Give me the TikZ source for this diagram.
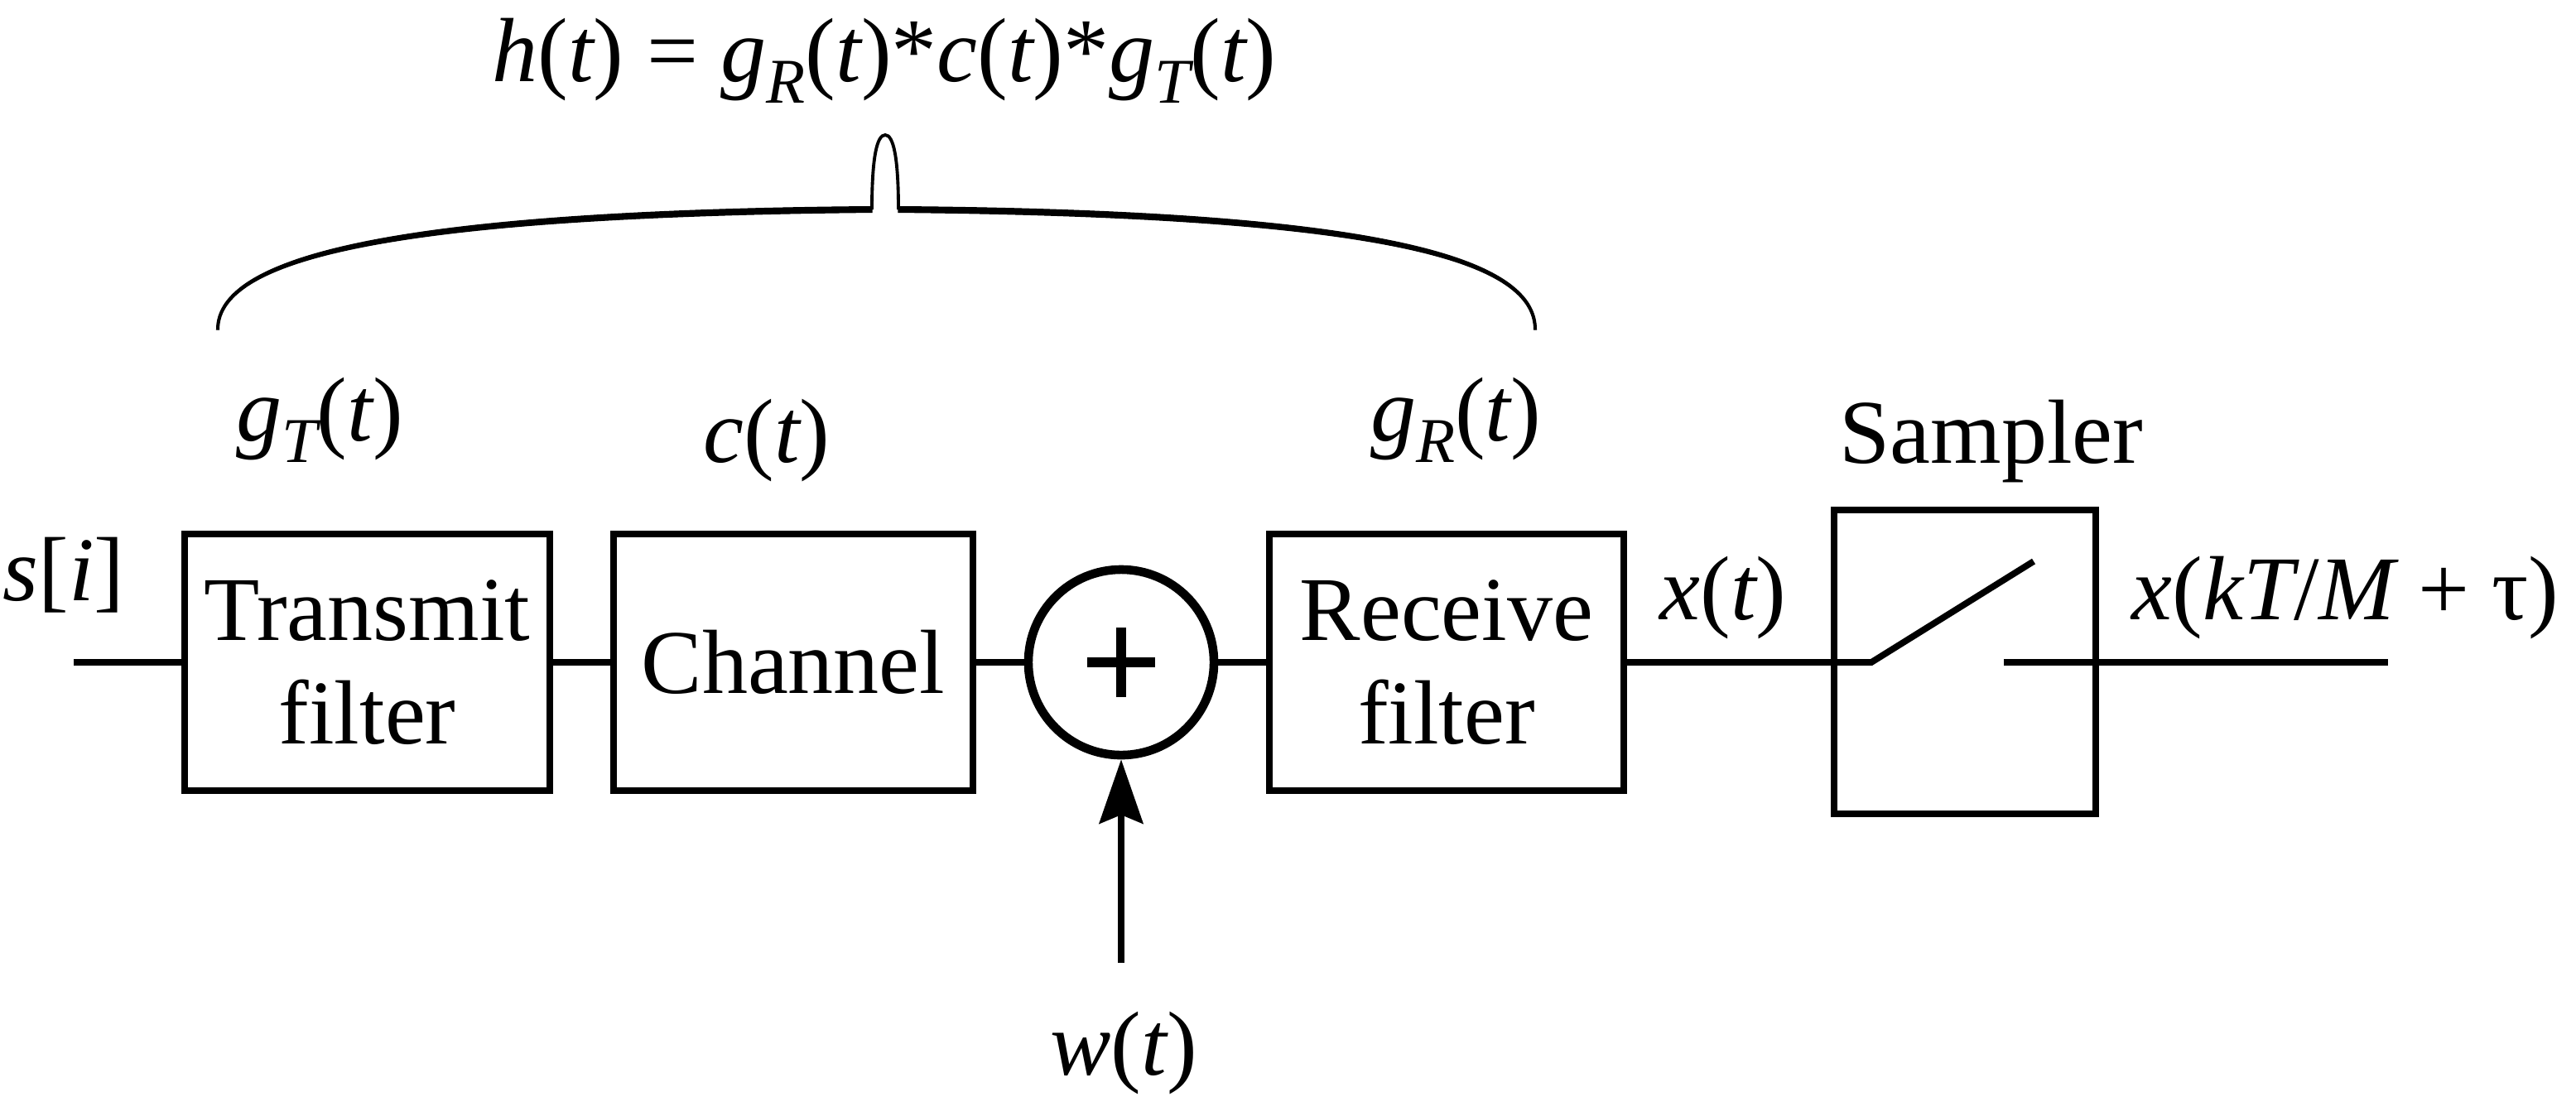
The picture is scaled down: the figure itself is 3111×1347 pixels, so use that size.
\documentclass[tikz,border=0pt]{standalone}
\usepackage{fontspec}
\setmainfont{Liberation Serif}
\usetikzlibrary{arrows.meta}
\newcommand\vsub[1]{\raisebox{-0.24em}{\fontsize{21.9}{24}\selectfont\itshape #1}}
\newcommand\vi[1]{{\itshape #1}}
\begin{document}
\begin{tikzpicture}[x=0.01cm,y=-0.01cm,
  font=\fontsize{31.3}{35.6}\selectfont,
  blk/.style={draw, line width=2.1pt, inner sep=0pt, align=center,
              minimum width=#1, minimum height=3.10cm},
  lbl/.style={inner sep=0pt, anchor=base},
  wire/.style={line width=2.2pt},
  bracefill/.style={fill=black, draw=black, line width=0.3pt},
  spike/.style={line width=1.1pt}]
\useasboundingbox (0,0) rectangle (3111,1347);

% blocks
\node[blk=4.41cm] (tx) at (443.5,800) {Transmit\\filter};
\node[blk=4.34cm] (ch) at (958,800) {Channel};
\node[circle, draw, line width=3pt, minimum size=2.24cm, inner sep=0pt] (sum) at (1354,800) {};
\node[blk=4.28cm] (rx) at (1747,800) {Receive\\filter};
\node[draw, line width=2.1pt, inner sep=0pt, minimum width=3.16cm, minimum height=3.67cm] (smp) at (2373,799.5) {};

% plus sign
\draw[line width=3.4pt] ([xshift=-0.41cm]sum.center) -- ([xshift=0.41cm]sum.center);
\draw[line width=3.4pt] ([yshift=-0.42cm]sum.center) -- ([yshift=0.42cm]sum.center);

% coordinates
\coordinate (in) at (89,800);
\coordinate (sw1) at (2260,800);
\coordinate (sw2) at (2456,678);
\coordinate (sw3) at (2420,800);
\coordinate (out) at (2884,800);
\coordinate (wsrc) at (1354,1163);

% wires
\draw[wire] (in) -- (tx.west);
\draw[wire] (tx.east) -- (ch.west);
\draw[wire] (ch.east) -- (sum.west);
\draw[wire] (sum.east) -- (rx.west);
\draw[wire] (rx.east) -- (sw1) -- (sw2);
\draw[wire] (sw3) -- (out);
\draw[wire, -{Stealth[length=22pt,width=15pt,inset=3pt]}] (wsrc) -- (sum.south);

% brace (variable width)
\fill[bracefill] (261.5,398) .. controls (261.5,308) and (480,254) .. (1053,249.5)
  -- (1053,256.5) .. controls (480,262) and (264.5,312) .. (264.5,398) -- cycle;
\fill[bracefill] (1855.5,398) .. controls (1855.5,308) and (1656,254) .. (1085,249.5)
  -- (1085,256.5) .. controls (1656,262) and (1852.5,312) .. (1852.5,398) -- cycle;
\draw[spike] (1053,253) .. controls (1053,190) and (1059,163) .. (1069,163)
  .. controls (1079,163) and (1085,190) .. (1085,253);

% labels
\node[lbl, anchor=base west] (si) at (3,725) {\vi{s}[\vi{i}]};
\node[lbl] (gt) at (386,532) {\vi{g}\vsub{T}(\vi{t})};
\node[lbl] (ct) at (926,558) {\vi{c}(\vi{t})};
\node[lbl] (gr) at (1758,532) {\vi{g}\vsub{R}(\vi{t})};
\node[lbl] (sl) at (2405,559) {Sampler};
\node[lbl, anchor=base west] (xt) at (2004,748) {\vi{x}(\vi{t})};
\node[lbl, anchor=base west] (xk) at (2574,748) {\vi{x}(\vi{kT}/\vi{M} + τ)};
\node[lbl] (wt) at (1357,1298) {\vi{w}(\vi{t})};
\node[lbl] (ht) at (1068,98) {\vi{h}(\vi{t}) = \vi{g}\vsub{R}(\vi{t})*\vi{c}(\vi{t})*\vi{g}\vsub{T}(\vi{t})};
\end{tikzpicture}
\end{document}
